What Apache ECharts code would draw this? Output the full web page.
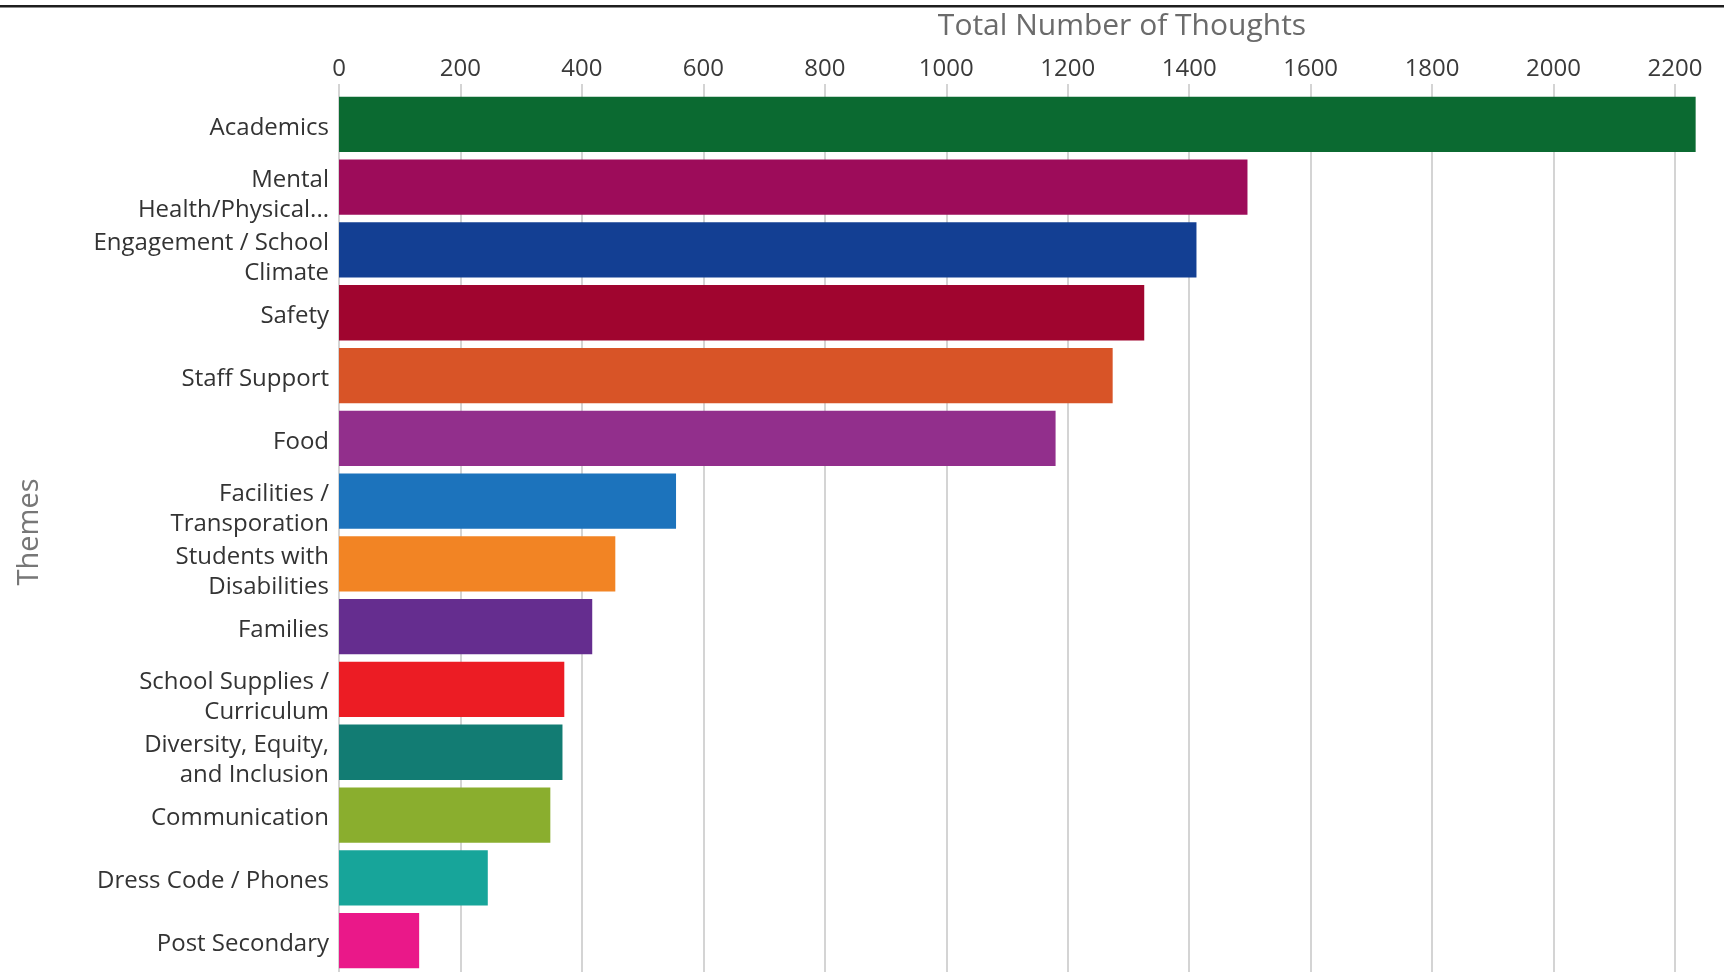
<!DOCTYPE html>
<html>
<head>
<meta charset="utf-8">
<title>Total Number of Thoughts by Theme</title>
<script src="https://cdn.jsdelivr.net/npm/echarts@6/dist/echarts.min.js"></script>
<style>
  html, body { margin: 0; padding: 0; background: #fff; }
  #chart { width: 1724px; height: 976px; }
</style>
</head>
<body>
<div id="chart"></div>
<script>
// themes, top to bottom
var themes = [
    'Academics',
    'Mental\nHealth/Physical...',
    'Engagement / School\nClimate',
    'Safety',
    'Staff Support',
    'Food',
    'Facilities /\nTransporation',
    'Students with\nDisabilities',
    'Families',
    'School Supplies /\nCurriculum',
    'Diversity, Equity,\nand Inclusion',
    'Communication',
    'Dress Code / Phones',
    'Post Secondary'
];

// number of thoughts per theme
var thoughts = [2234, 1496, 1412, 1326, 1274, 1180, 555, 455, 417, 371, 368, 348, 245, 132];

var themeColors = [
    '#0b6a31', '#9d0c5a', '#133f93', '#a0052f', '#d85427', '#922f8c', '#1c73bc',
    '#f28424', '#652d8f', '#ec1c24', '#127c73', '#8aae2e', '#17a59a', '#ea1889'
];

var xTicks = [0, 200, 400, 600, 800, 1000, 1200, 1400, 1600, 1800, 2000, 2200];

var font = '"Open Sans", "Noto Sans", sans-serif';

var chart = echarts.init(document.getElementById('chart'));

var barData = [];
for (var i = 0; i < thoughts.length; i++) {
    barData.push({value: thoughts[i], itemStyle: {color: themeColors[i]}});
}

// labels sit a little below the bar middle in the original,
// two line ones a bit more -> small spacer line on top
function themeLabel(v) {
    var lines = v.split('\n');
    var sp = lines.length > 1 ? '{sp2| }' : '{sp1| }';
    return sp + '\n' + lines.map(function (l) { return '{t|' + l + '}'; }).join('\n');
}

var option = {
    backgroundColor: '#ffffff',
    animation: false,
    grid: {
        left: 339,
        right: 49,
        top: 93,
        bottom: 4,
        containLabel: false
    },
    xAxis: {
        type: 'value',
        position: 'top',
        min: xTicks[0],
        max: xTicks[xTicks.length - 1],
        interval: 200,
        axisLine: {show: false},
        axisTick: {
            show: true,
            length: 9,
            lineStyle: {color: '#c6c6c6', width: 1.5}
        },
        axisLabel: {
            margin: 12,
            color: '#3a3a3a',
            fontSize: 24,
            fontFamily: font,
            formatter: function (v) { return String(v); }
        },
        splitLine: {
            show: true,
            lineStyle: {color: '#c6c6c6', width: 1.5}
        }
    },
    yAxis: {
        type: 'category',
        data: themes,
        inverse: true,
        axisLine: {show: false},
        axisTick: {show: false},
        axisLabel: {
            margin: 10,
            align: 'right',
            formatter: themeLabel,
            rich: {
                t: {
                    color: '#333333',
                    fontSize: 24,
                    lineHeight: 30,
                    fontFamily: font
                },
                sp1: {fontSize: 4, lineHeight: 7},
                sp2: {fontSize: 4, lineHeight: 16}
            }
        }
    },
    series: [{
        name: 'Total Number of Thoughts',
        type: 'bar',
        data: barData,
        barCategoryGap: '12%',
        clip: false
    }],
    graphic: [
        {
            // frame line at the very top of the picture
            type: 'rect',
            shape: {x: 0, y: 5, width: 1724, height: 2.5},
            style: {fill: '#1e1e1e'}
        },
        {
            type: 'text',
            x: 1122,
            y: 26,
            style: {
                text: 'Total Number of Thoughts',
                fill: '#6b6b6b',
                font: '30px ' + font,
                textAlign: 'center',
                textVerticalAlign: 'middle'
            }
        },
        {
            type: 'text',
            x: 30,
            y: 532,
            rotation: Math.PI / 2,
            style: {
                text: 'Themes',
                fill: '#777777',
                font: '29px ' + font,
                textAlign: 'center',
                textVerticalAlign: 'middle'
            }
        }
    ]
};

chart.setOption(option);
</script>
</body>
</html>
